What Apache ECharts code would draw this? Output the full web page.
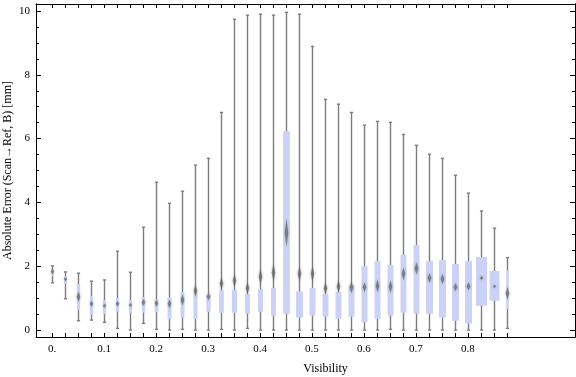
<!DOCTYPE html>
<html>
<head>
<meta charset="utf-8">
<script src="https://cdn.jsdelivr.net/npm/echarts@6/dist/echarts.min.js"></script>
<style>
html,body{margin:0;padding:0;background:#fff;}
#chart{width:576px;height:377px;}
</style>
</head>
<body>
<div id="chart"></div>
<script>
// Visibility bin centres
const visibility = [0,0.025,0.05,0.075,0.1,0.125,0.15,0.175,0.2,0.225,0.25,0.275,0.3,0.325,0.35,0.375,0.4,0.425,0.45,0.475,0.5,0.525,0.55,0.575,0.6,0.625,0.65,0.675,0.7,0.725,0.75,0.775,0.8,0.825,0.85,0.875];
const whiskerMin = [1.48,0.98,0.29,0.31,0.24,0.05,0.00,0.21,0.02,0.00,0.02,0.00,0.00,0.02,0.00,0.05,0.00,0.00,0.00,0.00,0.00,0.00,0.00,0.00,0.00,0.00,0.02,0.00,0.00,0.00,0.00,0.00,0.00,0.00,0.00,0.05];
const quartile1  = [1.69,1.45,0.63,0.47,0.50,0.57,0.54,0.54,0.56,0.34,0.39,0.34,0.57,0.54,0.54,0.51,0.57,0.45,0.51,0.39,0.45,0.42,0.35,0.42,0.25,0.35,0.45,0.54,0.51,0.51,0.39,0.29,0.20,0.76,0.92,0.66];
const quartile3  = [1.90,1.69,1.44,1.07,0.94,1.00,0.94,1.03,0.97,1.03,1.19,1.15,1.13,1.25,1.25,1.13,1.28,1.32,6.23,1.21,1.32,1.13,1.19,1.41,2.01,2.16,2.04,2.35,2.66,2.16,2.19,2.07,2.16,2.29,1.85,1.87];
const whiskerMax = [2.01,1.82,1.78,1.53,1.57,2.47,1.81,3.22,4.63,3.97,4.35,5.17,5.38,6.82,9.74,9.87,9.90,9.87,9.96,9.90,8.89,7.23,7.08,6.82,6.42,6.54,6.51,6.13,5.79,5.51,5.38,4.85,4.29,3.73,3.19,2.27];
const meanValue  = [1.83,1.59,1.04,0.82,0.76,0.82,0.78,0.86,0.84,0.82,0.94,1.23,1.04,1.46,1.55,1.31,1.67,1.80,3.05,1.76,1.76,1.31,1.36,1.34,1.34,1.38,1.36,1.76,1.93,1.63,1.60,1.34,1.37,1.63,1.37,1.15];
// uncertainty (half-height, mm) of the mean marker
const meanSpread = [0.09,0.06,0.16,0.09,0.06,0.08,0.06,0.11,0.11,0.13,0.17,0.19,0.11,0.19,0.20,0.19,0.24,0.27,0.44,0.24,0.24,0.19,0.19,0.19,0.16,0.20,0.19,0.20,0.20,0.16,0.16,0.13,0.13,0.06,0.05,0.20];
// relative box width (in visibility units, data-driven)
const boxWidth = [0.0029,0.0044,0.0063,0.0063,0.0063,0.0063,0.0063,0.0067,0.0071,0.0077,0.0077,0.0077,0.0083,0.0090,0.0102,0.0096,0.0096,0.0096,0.0129,0.0135,0.0115,0.0115,0.0115,0.0115,0.0115,0.0115,0.0115,0.0115,0.0115,0.0135,0.0135,0.0135,0.0135,0.0212,0.0192,0.0044];

const xTickLabelValues = [0,0.1,0.2,0.3,0.4,0.5,0.6,0.7,0.8];
const xTickLabels = ["0.","0.1","0.2","0.3","0.4","0.5","0.6","0.7","0.8"];
const yMajor = [0,2,4,6,8,10];
const yMinor = [0.5,1,1.5,2.5,3,3.5,4.5,5,5.5,6.5,7,7.5,8.5,9,9.5];

const X_MIN = -0.0308, X_MAX = 1.0058, Y_MIN = -0.22, Y_MAX = 10.22;
const FONT = '"Liberation Serif","Times New Roman",serif';

const boxData = visibility.map((v,i)=>[v, whiskerMin[i], quartile1[i], quartile3[i], whiskerMax[i], boxWidth[i]]);
const meanData = visibility.map((v,i)=>[v, meanValue[i], meanSpread[i]]);

const chart = echarts.init(document.getElementById('chart'), null, {renderer:'canvas'});

const lineStyle = {color:'#000', width:1};
function xAx(pos, labels){
  return {
    type:'value', position:pos, min:X_MIN, max:X_MAX,
    axisLine:{show:true, onZero:false, lineStyle},
    axisTick:{show:true, inside:true, length:4, lineStyle, customValues: visibility},
    axisLabel: labels ? {
      show:true, customValues: xTickLabelValues, margin:7,
      fontFamily:FONT, fontSize:11, color:'#000',
      formatter:(val)=>{ const k = xTickLabelValues.findIndex(t=>Math.abs(t-val)<1e-9); return k>=0 ? xTickLabels[k] : ''; }
    } : {show:false},
    splitLine:{show:false},
    name: labels ? 'Visibility' : '',
    nameLocation:'middle', nameGap:26, nameMoveOverlap:false,
    nameTextStyle:{fontFamily:FONT, fontSize:12, color:'#000', padding:[0,0,0,40]}
  };
}
function yAx(pos, values, len, labels, name){
  return {
    type:'value', position:pos, min:Y_MIN, max:Y_MAX, offset:0,
    axisLine:{show:true, onZero:false, lineStyle},
    axisTick:{show:true, inside:true, length:len, lineStyle, customValues: values},
    axisLabel: labels ? {show:true, customValues: values, margin:6, fontFamily:FONT, fontSize:11, color:'#000'} : {show:false},
    splitLine:{show:false},
    name: name || '', nameLocation:'middle', nameGap:22, nameRotate:90, nameMoveOverlap:false,
    nameTextStyle:{fontFamily:FONT, fontSize:12, color:'#000'}
  };
}

chart.setOption({
  animation:false,
  backgroundColor:'#fff',
  grid:{left:36, right:1, top:4, bottom:40, containLabel:false, outerBoundsMode:'none'},
  xAxis:[xAx('bottom', true), xAx('top', false)],
  yAxis:[
    yAx('left', yMajor, 5, true, 'Absolute Error (Scan\u2192Ref, B) [mm]'),
    yAx('left', yMinor, 3, false),
    yAx('right', yMajor, 5, false),
    yAx('right', yMinor, 3, false)
  ],
  series:[
    {
      type:'custom', xAxisIndex:0, yAxisIndex:0, data:boxData,
      encode:{x:0, y:[1,2,3,4]},
      renderItem:(params, api)=>{
        const x = api.value(0);
        const pMin = api.coord([x, api.value(1)]);
        const pQ1 = api.coord([x, api.value(2)]);
        const pQ3 = api.coord([x, api.value(3)]);
        const pMax = api.coord([x, api.value(4)]);
        const hw = api.size([api.value(5), 0])[0] / 2;
        const cx = Math.round(pMin[0]) + 0.5;
        const ws = {stroke:'#7d7d7d', lineWidth:1.4};
        return {type:'group', children:[
          {type:'line', shape:{x1:cx, y1:pMin[1], x2:cx, y2:pMax[1]}, style:ws},
          {type:'line', shape:{x1:cx-1.6, y1:pMax[1], x2:cx+1.6, y2:pMax[1]}, style:ws},
          {type:'line', shape:{x1:cx-1.6, y1:pMin[1], x2:cx+1.6, y2:pMin[1]}, style:ws},
          {type:'rect', shape:{x:cx-hw, y:pQ3[1], width:hw*2, height:pQ1[1]-pQ3[1]}, style:{fill:'#cbd2f5'}}
        ]};
      }
    },
    {
      type:'custom', xAxisIndex:0, yAxisIndex:0, data:meanData,
      encode:{x:0, y:1},
      renderItem:(params, api)=>{
        const x = api.value(0), m = api.value(1), s = api.value(2);
        const c = api.coord([x, m]);
        const top = api.coord([x, m + s])[1];
        const bot = api.coord([x, m - s])[1];
        const cx = Math.round(c[0]) + 0.5;
        const hw = 1.8;
        return {type:'polygon', shape:{points:[[cx, top],[cx+hw, c[1]],[cx, bot],[cx-hw, c[1]]]},
          style:{fill:'rgba(100,100,100,0.7)', shadowBlur:3, shadowColor:'rgba(100,100,100,0.6)'}};
      }
    }
  ]
});
</script>
</body>
</html>
